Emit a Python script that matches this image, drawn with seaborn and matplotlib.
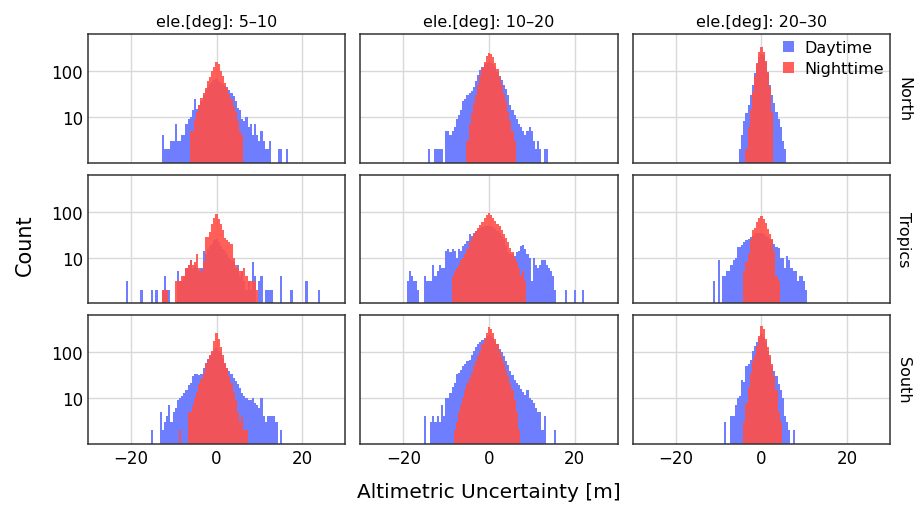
import matplotlib
matplotlib.use('Agg')
import matplotlib.pyplot as plt
import seaborn as sns
import numpy as np
import pandas as pd
from matplotlib.ticker import FixedLocator, FixedFormatter, NullLocator

# bin width 0.5 m, each list gives the counts of consecutive bins starting at *_start (bin centre)
BIN = 0.5

regions = ["North", "Tropics", "South"]
elevations = ["5–10", "10–20", "20–30"]
periods = ["Daytime", "Nighttime"]

# ---- North ----
north_5_10_day_start = -12.5
north_5_10_day = [4, 2, 2, 2, 3, 3, 7, 3, 3, 4, 4, 7, 9, 10, 14, 25, 15, 18, 22, 30, 38, 46, 52, 58,
                  64, 68, 62, 56, 52, 48, 45, 38, 33, 28, 22, 16, 14, 9, 8, 10, 6, 7, 4, 7, 4, 3, 5,
                  3, 2, 2, 3, 0, 0, 0, 2, 2, 0, 0, 2]
north_5_10_night_start = -6.0
north_5_10_night = [5, 5, 9, 13, 18, 26, 33, 42, 60, 75, 100, 125, 155, 140, 100, 78, 55, 42, 32, 24,
                    17, 13, 8, 5, 4]

north_10_20_day_start = -14.0
north_10_20_day = [2, 0, 0, 2, 2, 2, 2, 0, 5, 5, 4, 5, 6, 9, 11, 14, 22, 24, 30, 34, 36, 45, 60, 82,
                   105, 125, 140, 150, 160, 150, 140, 120, 95, 80, 64, 50, 40, 30, 18, 14, 11, 9, 7,
                   6, 5, 4, 5, 6, 5, 3, 2, 3, 2, 0, 2, 2]
north_10_20_night_start = -5.0
north_10_20_night = [3, 7, 12, 20, 30, 50, 80, 115, 160, 210, 250, 235, 200, 150, 110, 75, 50, 32, 22,
                     13, 8, 5, 3]

north_20_30_day_start = -5.0
north_20_30_day = [2, 4, 8, 12, 18, 30, 50, 90, 140, 200, 240, 220, 160, 90, 50, 30, 20, 13, 9, 6, 3, 2]
north_20_30_night_start = -3.5
north_20_30_night = [2, 6, 14, 35, 80, 150, 260, 330, 260, 170, 95, 45, 13]

# ---- Tropics ----
tropics_5_10_day_start = -21.0
tropics_5_10_day = [3, 0, 0, 0, 0, 0, 0, 2, 0, 0, 0, 0, 2, 0, 2, 0, 0, 2, 4, 2, 2, 0, 0, 0, 5, 3, 3,
                    4, 6, 7, 9, 6, 7, 6, 5, 6, 14, 12, 15, 18, 20, 24, 26, 22, 18, 15, 14, 12, 10, 9,
                    8, 6, 7, 4, 5, 3, 2, 3, 2, 8, 4, 0, 3, 4, 0, 2, 2, 2, 2, 0, 0, 0, 4, 0, 0, 0, 0,
                    2, 0, 0, 0, 0, 0, 0, 3, 0, 0, 0, 0, 0, 2]
tropics_5_10_night_start = -12.5
tropics_5_10_night = [2, 2, 2, 0, 0, 0, 3, 3, 3, 4, 4, 6, 7, 9, 7, 8, 12, 6, 5, 8, 28, 28, 36, 55,
                      75, 88, 70, 55, 40, 27, 24, 22, 20, 10, 7, 6, 5, 5, 6, 4, 3, 3, 3, 3, 2]

tropics_10_20_day_start = -19.0
tropics_10_20_day = [3, 5, 4, 3, 3, 2, 0, 0, 4, 3, 3, 3, 7, 4, 5, 7, 6, 6, 14, 15, 13, 15, 14, 10, 15,
                     14, 18, 20, 23, 32, 30, 34, 38, 40, 44, 46, 48, 50, 50, 48, 46, 42, 38, 34, 30,
                     25, 19, 13, 12, 12, 11, 13, 14, 18, 19, 15, 12, 10, 3, 10, 7, 6, 7, 9, 9, 7, 6,
                     5, 4, 2, 0, 0, 0, 0, 2, 0, 0, 0, 2, 0, 0, 0, 2]
tropics_10_20_night_start = -8.5
tropics_10_20_night = [4, 5, 6, 7, 9, 10, 12, 15, 22, 27, 32, 38, 45, 52, 60, 72, 85, 92, 85, 72, 62,
                       55, 48, 40, 32, 27, 22, 16, 13, 10, 8, 6, 4, 5, 3]

tropics_20_30_day_start = -11.0
tropics_20_30_day = [3, 0, 9, 0, 4, 4, 5, 5, 7, 9, 10, 17, 17, 19, 22, 24, 26, 28, 30, 32, 34, 34, 35,
                     33, 30, 28, 26, 24, 20, 17, 16, 10, 10, 6, 11, 9, 6, 5, 5, 3, 4, 4, 3, 2]
tropics_20_30_night_start = -4.0
tropics_20_30_night = [5, 8, 12, 25, 40, 45, 60, 72, 80, 70, 56, 42, 32, 25, 14, 4, 3]

# ---- South ----
south_5_10_day_start = -15.0
south_5_10_day = [2, 0, 0, 0, 5, 2, 3, 4, 7, 3, 5, 6, 9, 10, 11, 13, 15, 19, 22, 30, 33, 33, 32, 33,
                  45, 58, 72, 85, 100, 115, 125, 110, 95, 75, 55, 45, 39, 33, 28, 24, 20, 17, 13, 11,
                  10, 9, 9, 10, 8, 7, 6, 10, 4, 3, 4, 4, 4, 4, 3, 0, 2]
south_5_10_night_start = -8.5
south_5_10_night = [2, 0, 0, 0, 5, 5, 7, 10, 14, 20, 26, 36, 55, 70, 90, 110, 180, 270, 200, 130, 90,
                    60, 45, 30, 22, 14, 9, 5, 3, 4, 2, 2]

south_10_20_day_start = -15.0
south_10_20_day = [4, 0, 0, 3, 4, 3, 4, 3, 7, 4, 10, 10, 13, 18, 22, 34, 36, 42, 50, 55, 64, 70, 90,
                   110, 130, 150, 170, 190, 210, 230, 240, 230, 210, 180, 150, 120, 100, 85, 64, 52,
                   40, 32, 25, 22, 19, 16, 14, 12, 15, 10, 9, 8, 6, 5, 5, 2, 4, 0, 0, 0, 0, 2]
south_10_20_night_start = -8.0
south_10_20_night = [2, 3, 5, 7, 10, 15, 21, 27, 35, 50, 65, 85, 110, 150, 200, 270, 360, 330, 260,
                     200, 150, 110, 80, 60, 42, 30, 22, 15, 9, 5, 2]

south_20_30_day_start = -8.5
south_20_30_day = [3, 0, 0, 4, 4, 7, 10, 11, 25, 23, 50, 55, 70, 110, 140, 170, 210, 250, 220, 170,
                   110, 75, 50, 40, 30, 20, 15, 10, 4, 3, 2, 0, 2]
south_20_30_night_start = -4.0
south_20_30_night = [3, 8, 18, 35, 65, 90, 140, 230, 380, 320, 200, 130, 90, 55, 30, 15, 5, 3]

series = {
    ("North", "5–10"): [(north_5_10_day_start, north_5_10_day), (north_5_10_night_start, north_5_10_night)],
    ("North", "10–20"): [(north_10_20_day_start, north_10_20_day), (north_10_20_night_start, north_10_20_night)],
    ("North", "20–30"): [(north_20_30_day_start, north_20_30_day), (north_20_30_night_start, north_20_30_night)],
    ("Tropics", "5–10"): [(tropics_5_10_day_start, tropics_5_10_day), (tropics_5_10_night_start, tropics_5_10_night)],
    ("Tropics", "10–20"): [(tropics_10_20_day_start, tropics_10_20_day), (tropics_10_20_night_start, tropics_10_20_night)],
    ("Tropics", "20–30"): [(tropics_20_30_day_start, tropics_20_30_day), (tropics_20_30_night_start, tropics_20_30_night)],
    ("South", "5–10"): [(south_5_10_day_start, south_5_10_day), (south_5_10_night_start, south_5_10_night)],
    ("South", "10–20"): [(south_10_20_day_start, south_10_20_day), (south_10_20_night_start, south_10_20_night)],
    ("South", "20–30"): [(south_20_30_day_start, south_20_30_day), (south_20_30_night_start, south_20_30_night)],
}

# long table: one row per bin
rows = []
for (reg, ele), pair in series.items():
    for period, (start, counts) in zip(periods, pair):
        for i, c in enumerate(counts):
            rows.append((reg, ele, period, start + BIN * i, c))
df = pd.DataFrame(rows, columns=["region", "ele", "period", "err", "count"])

sns.set_theme(style="white")
plt.rcParams['font.family'] = ['DejaVu Sans']
plt.rcParams['text.color'] = 'black'
plt.rcParams['xtick.color'] = 'black'
plt.rcParams['ytick.color'] = 'black'

colors = {"Daytime": "#6f7eff", "Nighttime": "#ff5048"}
alphas = {"Daytime": 1.0, "Nighttime": 0.9}

fig, axes = plt.subplots(3, 3, figsize=(9.14, 5.06), dpi=100, sharex=True, sharey=True)
plt.subplots_adjust(left=0.0963, right=0.9737, top=0.931, bottom=0.1206, wspace=0.06, hspace=0.093)

for r, reg in enumerate(regions):
    for c, ele in enumerate(elevations):
        ax = axes[r, c]
        ax.set_axisbelow(True)
        ax.grid(True, color="#d9d9d9", linewidth=1.0)
        for period in periods:
            sub = df[(df.region == reg) & (df.ele == ele) & (df.period == period)]
            sns.histplot(data=sub, x="err", weights="count", binwidth=BIN, binrange=(-30.25, 30.25),
                         color=colors[period], alpha=alphas[period], linewidth=0, ax=ax, label=period)
        ax.set_yscale("log")
        ax.set_xlim(-30, 30)
        ax.set_ylim(1.0, 650)
        ax.set_xlabel("")
        ax.set_ylabel("")
        ax.xaxis.set_major_locator(FixedLocator([-20, 0, 20]))
        ax.yaxis.set_major_locator(FixedLocator([10, 100]))
        ax.yaxis.set_major_formatter(FixedFormatter(["10", "100"]))
        ax.yaxis.set_minor_locator(NullLocator())
        ax.tick_params(axis="both", labelsize=12, labelcolor="black", direction="in",
                       length=3, color="#aaaaaa")
        for sp in ax.spines.values():
            sp.set_color("#333333")
            sp.set_linewidth(1.1)
        if r == 0:
            ax.set_title(f"ele.[deg]: {ele}", fontsize=11.5, pad=6, color="black")
        if c == 2:
            ax.text(1.025, 0.5, reg, transform=ax.transAxes, rotation=-90,
                    va="center", ha="left", fontsize=11.5, color="black")

axes[0, 2].legend(loc="upper right", frameon=False, fontsize=11.5, handlelength=0.7,
                  handleheight=0.7, handletextpad=0.6, labelspacing=0.35,
                  borderaxespad=0.2, borderpad=0.2, labelcolor="black")

fig.text(0.027, 0.516, "Count", rotation=90, va="center", ha="center", fontsize=15, color="black")
fig.text(0.535, 0.026, "Altimetric Uncertainty [m]", va="center", ha="center", fontsize=14.5,
         color="black")

plt.savefig("out.png", dpi=100)
plt.close()
